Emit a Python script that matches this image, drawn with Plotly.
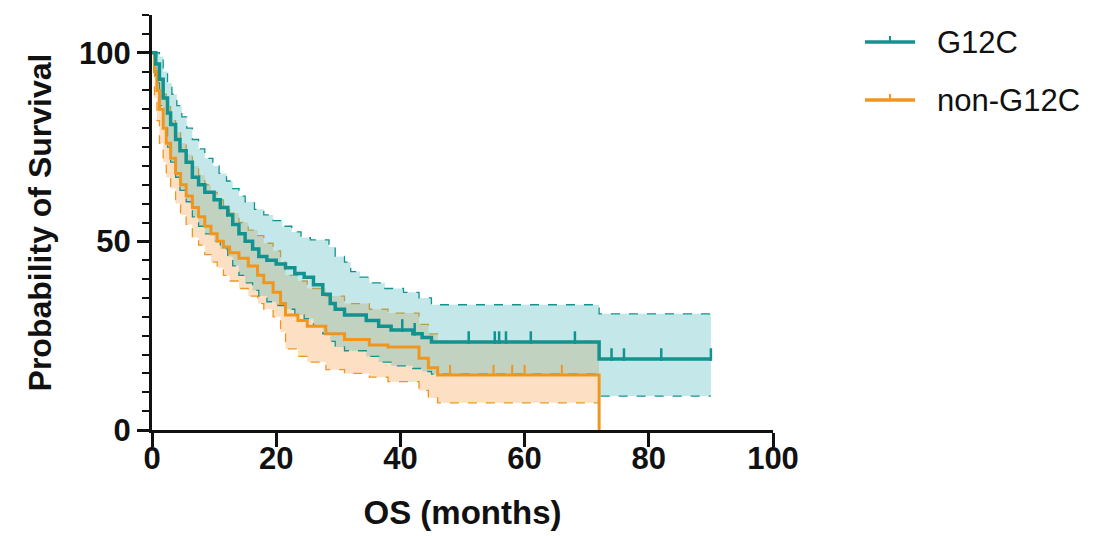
import plotly.graph_objects as go

# ---- data (months, % survival) ----
g12c_t = [0, 0.6, 1.2, 1.8, 2.5, 3.0, 3.8, 4.5, 5.5, 6.5, 7.5, 8.5, 10.0, 11.0, 12.2, 13.0, 14.0, 15.0,
          16.2, 17.2, 18.5, 20.0, 21.5, 23.0, 24.5, 26.0, 27.5, 28.7, 29.5, 31.0, 34.5, 36.5, 38.5, 42.0,
          43.5, 45.0, 72.0, 90.0]
g12c_s = [100, 97, 93, 88, 84, 81, 77, 74, 71, 67, 65, 63, 61, 59, 57, 54.5, 52, 50,
          48, 46, 45, 44, 43, 41.5, 40.5, 38.5, 36, 33.5, 32, 30.5, 29, 27.5, 26.5, 25.5,
          24.5, 23.3, 18.8, 18.8]
g12c_lo = [100, 92, 86, 80, 75, 71, 67, 63.5, 60.5, 56.5, 54, 52, 50, 48, 46, 43.5, 41, 39,
           37, 35.5, 34, 33, 32, 30.5, 29.5, 27.5, 25.5, 23.5, 22, 21, 19.5, 18, 17, 16.3,
           15.5, 14.8, 9, 9]
g12c_up_t = [0, 0.6, 1.2, 1.8, 2.5, 3.2, 4.0, 4.8, 5.6, 6.5, 7.5, 8.5, 9.8, 10.8, 12.0, 13.0, 14.0, 15.0,
             16.5, 18.0, 19.5, 21.0, 22.5, 24.0, 25.5, 28.5, 29.5, 31.0, 32.0, 33.5, 35.0, 37.5, 40.5,
             43.0, 45.0, 72.0, 90.0]
g12c_up = [100, 100, 99, 95, 92, 89, 86, 83, 80, 77, 74.5, 72, 70, 68, 66, 64, 62, 60.5,
           58.5, 57, 55.5, 54, 52.5, 51, 50.4, 48.5, 46, 44.5, 42, 40.5, 39, 37.5, 36.5,
           35, 33.2, 30.8, 30.8]
g12c_cens_t = [40.3, 42.3, 51, 55.2, 55.9, 57, 61, 68.1, 74, 76, 82, 90]

non_t = [0, 0.4, 0.8, 1.2, 1.8, 2.3, 3.0, 3.8, 4.6, 5.5, 6.5, 7.5, 8.5, 9.5, 10.5, 11.5, 12.5, 14.0,
         15.5, 17.0, 18.0, 19.5, 20.7, 21.5, 23.5, 25.0, 28.0, 31.0, 35.0, 38.0, 43.0, 44.5, 46.0, 72.0]
non_s = [100, 95, 90, 85, 80, 76, 72, 68, 65, 62, 59, 56.5, 54, 52, 50, 48.5, 47, 45.5,
         43.5, 41, 39, 36.5, 33.5, 30.5, 29, 27.5, 25.5, 24, 22.5, 22, 19, 16.5, 14.6, 0]
non_lo = [100, 88, 82, 76, 71, 67, 64, 60, 57, 54.5, 51, 49, 46.5, 44.5, 43, 41, 39.5, 37.5,
          35.5, 33.5, 32, 30, 26, 21.5, 19.5, 18, 16, 15, 14, 12.8, 10.5, 8.5, 7.2, 7.2]
non_up = [100, 100, 97, 93, 89, 86, 82, 79, 76, 73, 70, 67.5, 65, 63, 61, 59.5, 57.5, 55,
          53, 51.5, 49.5, 47.5, 44.5, 41, 39.5, 37.5, 35.5, 33.5, 32, 31, 28, 25.5, 23.5, 23.5]
non_cens_t = [48, 55, 58, 60, 66]

series_names = ["G12C", "non-G12C"]

TEAL = "#12938f"
ORANGE = "#f0961e"
TEAL_FILL = "rgba(60,180,185,0.30)"
ORANGE_FILL = "rgba(250,160,70,0.32)"
INK = "#111111"


def step_val(ts, ss, x):
    v = ss[0]
    for t, s in zip(ts, ss):
        if t <= x:
            v = s
    return v


fig = go.Figure()

# confidence bands
fig.add_trace(go.Scatter(x=non_t, y=non_lo, mode="lines", line=dict(color=ORANGE, width=1.3, dash="dash", shape="hv"),
                         showlegend=False, hoverinfo="skip"))
fig.add_trace(go.Scatter(x=non_t, y=non_up, mode="lines", line=dict(color=ORANGE, width=1.3, dash="dash", shape="hv"),
                         fill="tonexty", fillcolor=ORANGE_FILL, showlegend=False, hoverinfo="skip"))
fig.add_trace(go.Scatter(x=g12c_t, y=g12c_lo, mode="lines", line=dict(color=TEAL, width=1.3, dash="dash", shape="hv"),
                         showlegend=False, hoverinfo="skip"))
fig.add_trace(go.Scatter(x=g12c_up_t, y=g12c_up, mode="lines", line=dict(color=TEAL, width=1.3, dash="dash", shape="hv"),
                         fill="tonexty", fillcolor=TEAL_FILL, showlegend=False, hoverinfo="skip"))

# survival curves
fig.add_trace(go.Scatter(x=non_t, y=non_s, mode="lines", name=series_names[1],
                         line=dict(color=ORANGE, width=3, shape="hv"), showlegend=False))
fig.add_trace(go.Scatter(x=g12c_t, y=g12c_s, mode="lines", name=series_names[0],
                         line=dict(color=TEAL, width=3.5, shape="hv"), showlegend=False))

# censor marks
fig.add_trace(go.Scatter(x=non_cens_t, y=[step_val(non_t, non_s, x) + 1.2 for x in non_cens_t], mode="markers",
                         marker=dict(symbol="line-ns", size=8, line=dict(color=ORANGE, width=2)),
                         showlegend=False, cliponaxis=False))
fig.add_trace(go.Scatter(x=g12c_cens_t, y=[step_val(g12c_t, g12c_s, x) + 1.2 for x in g12c_cens_t], mode="markers",
                         marker=dict(symbol="line-ns", size=9, line=dict(color=TEAL, width=2.5)),
                         showlegend=False, cliponaxis=False))

FONT = "Liberation Sans, Arial, sans-serif"

# manual legend (paper coordinates)
L, R, T, B = 152, 773, 15, 430
W, H = R - L, B - T


def px(xp):
    return (xp - L) / W


def py(yp):
    return (B - yp) / H


shapes = []
annotations = []
for name, color, ypix in [(series_names[0], TEAL, 42), (series_names[1], ORANGE, 100)]:
    shapes.append(dict(type="line", xref="paper", yref="paper", x0=px(865), x1=px(915), y0=py(ypix), y1=py(ypix),
                       line=dict(color=color, width=3.5)))
    shapes.append(dict(type="line", xref="paper", yref="paper", x0=px(890), x1=px(890), y0=py(ypix), y1=py(ypix - 6),
                       line=dict(color=color, width=2)))
    annotations.append(dict(text=name, xref="paper", yref="paper", x=px(935), y=py(ypix), xanchor="left",
                            yanchor="middle", showarrow=False, font=dict(size=31, family=FONT, color=INK)))

fig.update_layout(
    width=1097, height=536,
    margin=dict(l=L, r=1097 - R, t=T, b=536 - B),
    plot_bgcolor="white", paper_bgcolor="white",
    font=dict(family=FONT, color=INK),
    showlegend=False,
    shapes=shapes, annotations=annotations,
    xaxis=dict(range=[0, 100], tickvals=[0, 20, 40, 60, 80, 100], ticks="outside", ticklen=14, tickwidth=2.5,
               tickcolor=INK, showline=True, linewidth=3, linecolor=INK, showgrid=False, zeroline=False,
               ticklabelstandoff=-15,
               tickfont=dict(size=31, family=FONT, weight="bold"),
               title=dict(text="OS (months)", font=dict(size=33, family=FONT, weight="bold"), standoff=26)),
    yaxis=dict(range=[0, 110], tickvals=[0, 50, 100], ticks="outside", ticklen=12, tickwidth=2.5,
               tickcolor=INK, showline=True, linewidth=3, linecolor=INK, showgrid=False, zeroline=False,
               minor=dict(dtick=5, ticks="outside", ticklen=7, tickwidth=2, tickcolor=INK, showgrid=False),
               tickfont=dict(size=31, family=FONT, weight="bold"),
               title=dict(text="Probability of Survival", font=dict(size=32, family=FONT, weight="bold"), standoff=18)),
)

fig.write_html("out.html")
